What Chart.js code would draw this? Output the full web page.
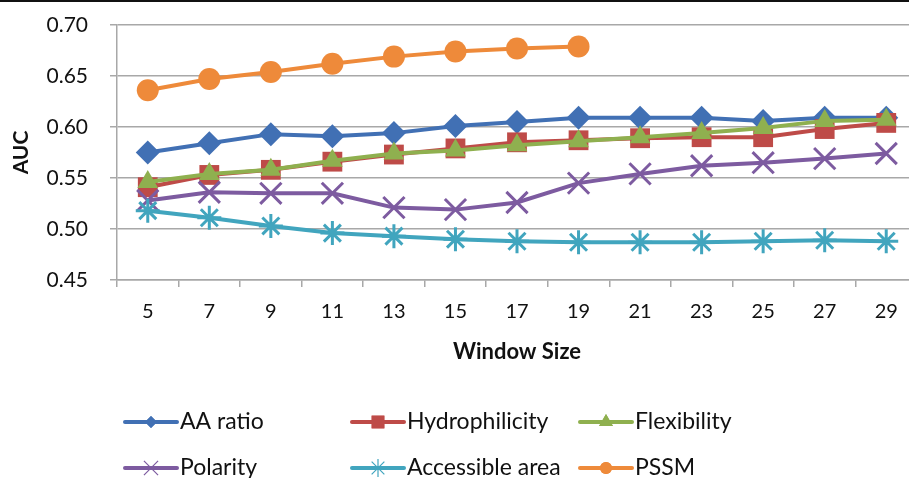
<!DOCTYPE html>
<html>
<head>
<meta charset="utf-8">
<script src="https://cdn.jsdelivr.net/npm/chart.js@4"></script>
<style>
  html, body { margin: 0; padding: 0; background: #fff; overflow: hidden; }
  #wrap { width: 918px; height: 478px; position: relative; }
</style>
</head>
<body>
<div id="wrap"><canvas id="aucChart" width="918" height="478"></canvas></div>
<script>
// Datos
const windowSizes = ['5', '7', '9', '11', '13', '15', '17', '19', '21', '23', '25', '27', '29'];
const aaRatio        = [0.575, 0.584, 0.593, 0.591, 0.594, 0.601, 0.605, 0.609, 0.609, 0.609, 0.606, 0.609, 0.609];
const hydrophilicity = [0.541, 0.553, 0.558, 0.566, 0.573, 0.579, 0.585, 0.587, 0.589, 0.590, 0.590, 0.598, 0.604];
const flexibility    = [0.546, 0.554, 0.558, 0.567, 0.574, 0.577, 0.582, 0.586, 0.590, 0.594, 0.599, 0.606, 0.607];
const polarity       = [0.528, 0.536, 0.535, 0.535, 0.521, 0.519, 0.526, 0.545, 0.554, 0.562, 0.565, 0.569, 0.574];
const accessibleArea = [0.518, 0.511, 0.503, 0.496, 0.493, 0.490, 0.488, 0.487, 0.487, 0.487, 0.488, 0.489, 0.488];
const pssm           = [0.636, 0.647, 0.654, 0.662, 0.669, 0.674, 0.677, 0.679, null, null, null, null, null];
const yTicks = [0.45, 0.50, 0.55, 0.60, 0.65, 0.70];

const FONT = 'Lato, "Open Sans", sans-serif';
const GRID = '#a8a8a8';

const series = [
    { label: 'AA ratio',        data: aaRatio,        color: '#4170b4', style: 'rectRot',  r: 12,  lr: 6 },
    { label: 'Hydrophilicity',  data: hydrophilicity, color: '#be4b48', style: 'rect',     r: 14,  lr: 9 },
    { label: 'Flexibility',     data: flexibility,    color: '#8fb04f', style: 'triangle', r: 12,  lr: 8 },
    { label: 'Polarity',        data: polarity,       color: '#7d5ba0', style: 'crossRot', r: 15,  lr: 10 },
    { label: 'Accessible area', data: accessibleArea, color: '#41a5be', style: 'star',     r: 12,  lr: 9 },
    { label: 'PSSM',            data: pssm,           color: '#ee8a3a', style: 'circle',   r: 11,  lr: 6 }
];

const isCross = s => s === 'crossRot' || s === 'star' || s === 'cross';

// Leyenda al estilo Excel: línea con marcador, dos filas de tres
const excelLegend = {
    id: 'excelLegend',
    beforeDraw(chart) {
        const ctx = chart.ctx;
        ctx.save();
        ctx.fillStyle = '#111';
        ctx.fillRect(0, 0, chart.width, 2);
        ctx.restore();
    },
    afterDraw(chart) {
        const ctx = chart.ctx;
        const cols = [125, 352, 580];
        const rows = [422, 468];
        ctx.save();
        series.forEach((s, i) => {
            const x = cols[i % 3];
            const y = rows[Math.floor(i / 3)];
            ctx.strokeStyle = s.color;
            ctx.lineWidth = 4;
            ctx.lineCap = 'round';
            ctx.beginPath();
            ctx.moveTo(x, y);
            ctx.lineTo(x + 52, y);
            ctx.stroke();
            ctx.fillStyle = s.color;
            ctx.strokeStyle = s.color;
            ctx.lineWidth = 1.2;
            ctx.lineCap = 'butt';
            Chart.helpers.drawPoint(ctx, {
                pointStyle: s.style,
                radius: s.lr,
                rotation: 0,
                borderWidth: isCross(s.style) ? 1.2 : 0
            }, x + 26, y);
            if (!isCross(s.style)) ctx.fill();
            ctx.fillStyle = '#111';
            ctx.font = '23px ' + FONT;
            ctx.textBaseline = 'middle';
            ctx.textAlign = 'left';
            ctx.fillText(s.label, x + 55, y);
        });
        ctx.restore();
    }
};

const ctx = document.getElementById('aucChart').getContext('2d');
window.myChart = new Chart(ctx, {
    type: 'line',
    data: {
        labels: windowSizes,
        datasets: series.map((s, i) => ({
            label: s.label,
            data: s.data,
            borderColor: s.color,
            backgroundColor: s.color,
            borderWidth: 4,
            pointStyle: s.style,
            pointRadius: s.r,
            pointBackgroundColor: s.color,
            pointBorderColor: s.color,
            pointBorderWidth: isCross(s.style) ? 3 : 0,
            tension: 0,
            spanGaps: false,
            order: series.length - i
        }))
    },
    options: {
        responsive: false,
        animation: false,
        layout: { autoPadding: false, padding: { top: 25, left: 0, right: 1, bottom: 108 } },
        plugins: {
            legend: { display: false },
            tooltip: { enabled: false }
        },
        scales: {
            x: {
                offset: true,
                grid: { offset: true, drawOnChartArea: false, drawTicks: true, tickLength: 7, color: GRID, lineWidth: 1.5 },
                border: { color: GRID, width: 1.5 },
                ticks: { color: '#111', font: { family: FONT, size: 20 }, padding: 13, maxRotation: 0, autoSkip: false },
                title: { display: true, text: 'Window Size', color: '#111', font: { family: FONT, size: 22, weight: 'bold' }, padding: 5 },
                afterFit: scale => { scale.height = 90; scale.paddingLeft = 0; scale.paddingRight = 0; }
            },
            y: {
                min: yTicks[0],
                max: yTicks[yTicks.length - 1],
                afterBuildTicks: scale => { scale.ticks = yTicks.map(v => ({ value: v })); },
                grid: { color: GRID, lineWidth: 1.5, tickLength: 7 },
                border: { color: GRID, width: 1.5 },
                ticks: { color: '#111', font: { family: FONT, size: 21 }, padding: 22, callback: v => Number(v).toFixed(2) },
                title: { display: true, text: 'AUC', color: '#111', font: { family: FONT, size: 21, weight: 'bold' }, padding: 9 },
                afterFit: scale => { scale.width = 117; scale.paddingTop = 0; scale.paddingBottom = 0; }
            }
        }
    },
    plugins: [excelLegend]
});
</script>
</body>
</html>
